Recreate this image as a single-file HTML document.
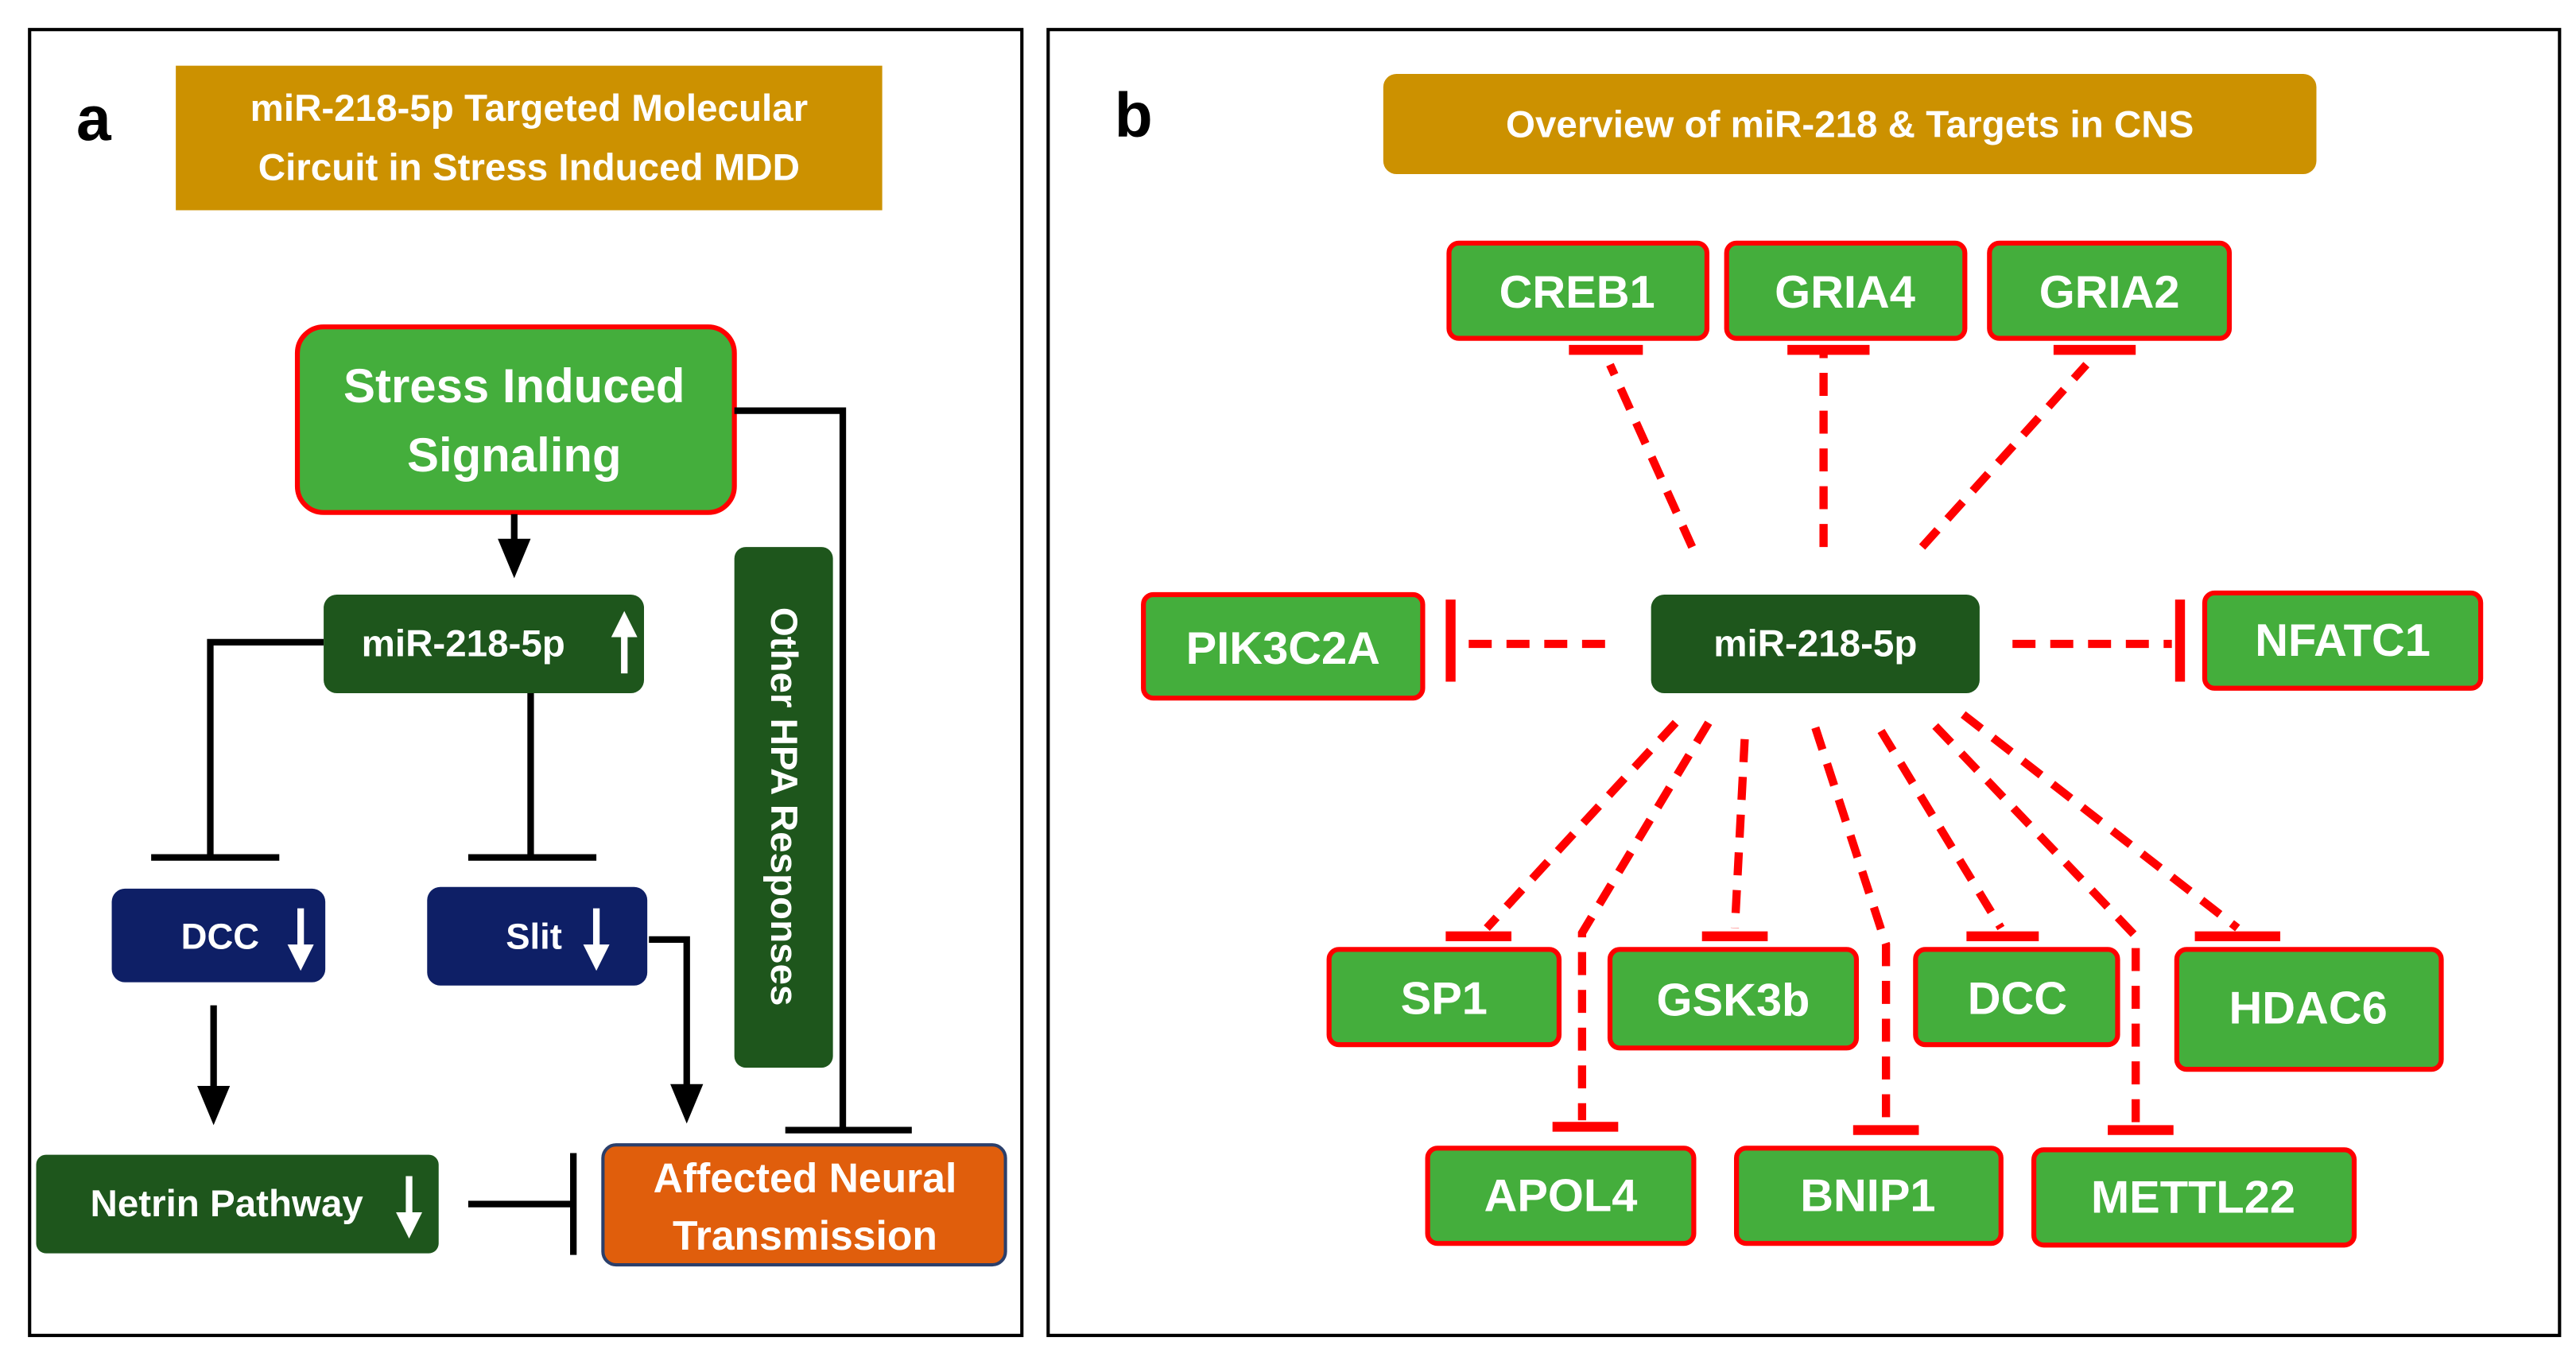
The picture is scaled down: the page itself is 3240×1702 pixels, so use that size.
<!DOCTYPE html>
<html><head><meta charset="utf-8"><style>
html,body{margin:0;padding:0;background:#fff;width:3240px;height:1702px;overflow:hidden}
svg{display:block}
text{font-family:"Liberation Sans",sans-serif;font-weight:bold;fill:#fff;text-anchor:middle;dominant-baseline:central}
</style></head><body>
<svg width="3240" height="1702" viewBox="0 0 1568 823.7" xmlns="http://www.w3.org/2000/svg">
<defs>
<marker id="ah" markerWidth="6" markerHeight="6" refX="3" refY="3" orient="auto" markerUnits="strokeWidth"><path d="M0,0.5 L6,3 L0,5.5z" fill="#000"/></marker>
<marker id="wh" markerWidth="4" markerHeight="4" refX="2" refY="2" orient="auto" markerUnits="strokeWidth"><path d="M0,0 L4,2 L0,4z" fill="#fff"/></marker>
</defs>
<!-- panel a -->
<rect x="18" y="18" width="604" height="795" fill="none" stroke="#000" stroke-width="2"/>
<text x="57" y="72" style="fill:#000;font-size:38px">a</text>
<rect x="107" y="40" width="430" height="88" fill="#CC9100"/>
<text x="322" y="66" style="font-size:23px">miR-218-5p Targeted Molecular</text>
<text x="322" y="102" style="font-size:23px">Circuit in Stress Induced MDD</text>

<rect x="181" y="199" width="266" height="113" rx="16" fill="#44AE3C" stroke="#f00" stroke-width="3"/>
<text x="313" y="235" style="font-size:29px">Stress Induced</text>
<text x="313" y="277" style="font-size:29px">Signaling</text>

<g stroke="#000" stroke-width="4" fill="none">
<line x1="313" y1="313" x2="313" y2="340" marker-end="url(#ah)"/>
<polyline points="197,391 128,391 128,522"/>
<line x1="92" y1="522" x2="170" y2="522"/>
<line x1="323" y1="422" x2="323" y2="522"/>
<line x1="285" y1="522" x2="363" y2="522"/>
<line x1="130" y1="612" x2="130" y2="673" marker-end="url(#ah)"/>
<polyline points="395,572 418,572 418,672" marker-end="url(#ah)"/>
<line x1="285" y1="733" x2="348" y2="733"/>
<line x1="349" y1="702" x2="349" y2="764"/>
<polyline points="447,250 513,250 513,688"/>
<line x1="478" y1="688" x2="555" y2="688"/>
</g>

<rect x="197" y="362" width="195" height="60" rx="8" fill="#1E561C"/>
<text x="282" y="392" style="font-size:23px">miR-218-5p</text>
<line x1="380" y1="410" x2="380" y2="380" stroke="#fff" stroke-width="4" marker-end="url(#wh)"/>

<rect x="68" y="541" width="130" height="57" rx="8" fill="#0E1F66"/>
<text x="134" y="570" style="font-size:22px">DCC</text>
<line x1="183" y1="553" x2="183" y2="583" stroke="#fff" stroke-width="4" marker-end="url(#wh)"/>
<rect x="260" y="540" width="134" height="60" rx="8" fill="#0E1F66"/>
<text x="325" y="570" style="font-size:22px">Slit</text>
<line x1="363" y1="553" x2="363" y2="583" stroke="#fff" stroke-width="4" marker-end="url(#wh)"/>

<rect x="22" y="703" width="245" height="60" rx="6" fill="#1E561C"/>
<text x="138" y="733" style="font-size:23px">Netrin Pathway</text>
<line x1="249" y1="716" x2="249" y2="746" stroke="#fff" stroke-width="4" marker-end="url(#wh)"/>

<rect x="367" y="697" width="245" height="73" rx="8" fill="#E05E0C" stroke="#2B3F6B" stroke-width="2"/>
<text x="490" y="717" style="font-size:25px">Affected Neural</text>
<text x="490" y="752" style="font-size:25px">Transmission</text>

<rect x="447" y="333" width="60" height="317" rx="7" fill="#1E561C"/>
<text x="477" y="491" transform="rotate(90 477 491)" style="font-size:23px">Other HPA Responses</text>

<!-- panel b -->
<rect x="638" y="18" width="920" height="795" fill="none" stroke="#000" stroke-width="2"/>
<text x="690" y="70" style="fill:#000;font-size:38px">b</text>
<rect x="842" y="45" width="568" height="61" rx="8" fill="#CC9100"/>
<text x="1126" y="76" style="font-size:23px">Overview of miR-218 &amp; Targets in CNS</text>

<g fill="#44AE3C" stroke="#f00" stroke-width="3">
<rect x="882" y="148" width="157" height="58" rx="6"/>
<rect x="1051" y="148" width="145" height="58" rx="6"/>
<rect x="1211" y="148" width="146" height="58" rx="6"/>
<rect x="696" y="362" width="170" height="63" rx="6"/>
<rect x="1342" y="361" width="168" height="58" rx="6"/>
<rect x="809" y="578" width="140" height="58" rx="6"/>
<rect x="980" y="578" width="150" height="60" rx="6"/>
<rect x="1166" y="578" width="123" height="58" rx="6"/>
<rect x="1325" y="578" width="161" height="73" rx="6"/>
<rect x="869" y="699" width="162" height="58" rx="6"/>
<rect x="1057" y="699" width="161" height="58" rx="6"/>
<rect x="1238" y="700" width="195" height="58" rx="6"/>
</g>
<g style="font-size:28px">
<text x="960" y="178">CREB1</text>
<text x="1123" y="178">GRIA4</text>
<text x="1284" y="178">GRIA2</text>
<text x="781" y="395">PIK3C2A</text>
<text x="1426" y="390">NFATC1</text>
<text x="879" y="608">SP1</text>
<text x="1055" y="609">GSK3b</text>
<text x="1228" y="608">DCC</text>
<text x="1405" y="614">HDAC6</text>
<text x="950" y="728">APOL4</text>
<text x="1137" y="728">BNIP1</text>
<text x="1335" y="729">METTL22</text>
</g>

<rect x="1005" y="362" width="200" height="60" rx="8" fill="#1E561C"/>
<text x="1105" y="392" style="font-size:23px">miR-218-5p</text>

<g stroke="#f00" stroke-width="5" fill="none" stroke-dasharray="14,9">
<line x1="1030" y1="333" x2="980" y2="222"/>
<line x1="1110" y1="333" x2="1110" y2="215"/>
<line x1="1170" y1="333" x2="1270" y2="222"/>
<line x1="977" y1="392" x2="888" y2="392"/>
<line x1="1225" y1="392" x2="1322" y2="392"/>
<line x1="1020" y1="440" x2="905" y2="565"/>
<line x1="1062" y1="450" x2="1056" y2="565"/>
<line x1="1145" y1="445" x2="1218" y2="565"/>
<line x1="1195" y1="435" x2="1362" y2="565"/>
<polyline points="1040,440 963,568 963,682"/>
<polyline points="1105,443 1148,575 1148,684"/>
<polyline points="1178,442 1300,570 1300,684"/>
</g>
<g stroke="#f00" stroke-width="6">
<line x1="955" y1="213" x2="1000" y2="213"/>
<line x1="1088" y1="213" x2="1138" y2="213"/>
<line x1="1250" y1="213" x2="1300" y2="213"/>
<line x1="883" y1="365" x2="883" y2="415"/>
<line x1="1327" y1="365" x2="1327" y2="415"/>
<line x1="880" y1="570" x2="920" y2="570"/>
<line x1="1036" y1="570" x2="1076" y2="570"/>
<line x1="1197" y1="570" x2="1241" y2="570"/>
<line x1="1336" y1="570" x2="1388" y2="570"/>
<line x1="945" y1="686" x2="985" y2="686"/>
<line x1="1128" y1="688" x2="1168" y2="688"/>
<line x1="1283" y1="688" x2="1323" y2="688"/>
</g>
</svg>
</body></html>
